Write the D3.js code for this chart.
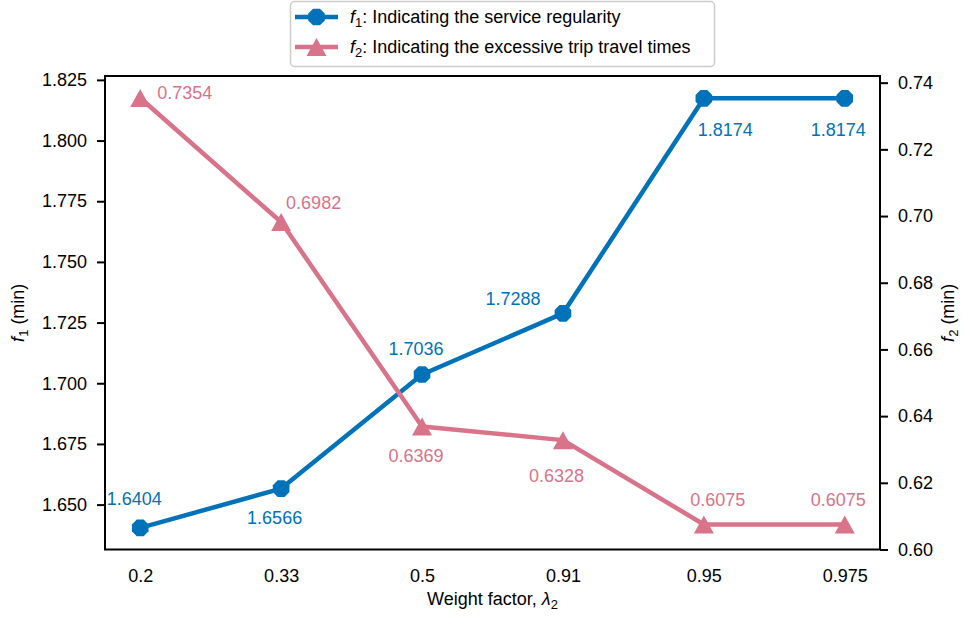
<!DOCTYPE html>
<html><head><meta charset="utf-8">
<script src="https://cdn.jsdelivr.net/npm/d3@7/dist/d3.min.js"></script>
<style>
body{margin:0;background:#fff;}
svg text{font-family:"Liberation Sans",Arial,sans-serif;}
</style></head><body>
<svg id="chart" width="965" height="621"></svg>
<script>
const categories = ["0.2","0.33","0.5","0.91","0.95","0.975"];
const f1Values = [1.6404,1.6566,1.7036,1.7288,1.8174,1.8174];
const f2Values = [0.7354,0.6982,0.6369,0.6328,0.6075,0.6075];
const f1Ticks = [1.650,1.675,1.700,1.725,1.750,1.775,1.800,1.825];
const f2Ticks = [0.60,0.62,0.64,0.66,0.68,0.70,0.72,0.74];

// label layout offsets (dx of text center, dy of baseline)
const f1LabelOff = [[-6,-23],[-6.5,35.5],[-6,-20],[-50,-8],[21.5,38],[-6.5,38]];
const f2LabelOff = [[44.5,1],[32.5,-13],[-6,36],[-6.5,42],[14,-18],[-6.5,-18]];

const blue = "#0072BA", pink = "#D8738A";
const L=105, R=880, T=76, B=549.5, FS=18, SFS=13;
const svg = d3.select("#chart");

const x = d3.scaleLinear().domain([-0.25, categories.length-0.75]).range([L,R]);
const yL = d3.scaleLinear().domain([1.6315,1.8266]).range([B,T]);
const yR = d3.scaleLinear().domain([0.60,0.742]).range([B,T]);

function octagon(r){
  const pts=[];
  for(let k=0;k<8;k++){const a=(22.5+45*k)*Math.PI/180;pts.push([r*Math.cos(a),r*Math.sin(a)]);}
  return "M"+pts.map(p=>p.join(",")).join("L")+"Z";
}
const tri = "M0,-9L10,9L-10,9Z";

// axes
const axL = d3.axisLeft(yL).tickValues(f1Ticks).tickFormat(d3.format(".3f")).tickSize(8).tickPadding(10);
const axR = d3.axisRight(yR).tickValues(f2Ticks).tickFormat(d3.format(".2f")).tickSize(8).tickPadding(10);
const axB = d3.axisBottom(x).tickValues(d3.range(categories.length)).tickFormat(i=>categories[i]).tickSize(0).tickPadding(20);

function style(g){
  g.selectAll("text").attr("font-size",FS).attr("fill","#000").attr("font-family","Liberation Sans, Arial, sans-serif");
  g.selectAll("line").attr("stroke","#000").attr("stroke-width",2);
  g.select(".domain").remove();
}
svg.append("g").attr("transform",`translate(${L},0)`).call(axL).call(style);
svg.append("g").attr("transform",`translate(${R},0)`).call(axR).call(style);
svg.append("g").attr("transform",`translate(0,${B})`).call(axB).call(style);
svg.append("rect").attr("x",L).attr("y",T).attr("width",R-L).attr("height",B-T)
  .attr("fill","none").attr("stroke","#000").attr("stroke-width",2);

// lines
const idx = d3.range(categories.length);
svg.append("path").attr("d", d3.line().x(i=>x(i)).y(i=>yL(f1Values[i]))(idx))
  .attr("fill","none").attr("stroke",blue).attr("stroke-width",4.5).attr("stroke-linejoin","round");
svg.append("path").attr("d", d3.line().x(i=>x(i)).y(i=>yR(f2Values[i]))(idx))
  .attr("fill","none").attr("stroke",pink).attr("stroke-width",4.5).attr("stroke-linejoin","round");

svg.selectAll(".m1").data(idx).join("path").attr("d",octagon(9))
  .attr("transform",i=>`translate(${x(i)},${yL(f1Values[i])})`).attr("fill",blue);
svg.selectAll(".m2").data(idx).join("path").attr("d",tri)
  .attr("transform",i=>`translate(${x(i)},${yR(f2Values[i])})`).attr("fill",pink);

// labels
svg.selectAll(".l1").data(idx).join("text")
  .attr("x",i=>x(i)+f1LabelOff[i][0]).attr("y",i=>yL(f1Values[i])+f1LabelOff[i][1])
  .attr("text-anchor","middle").attr("font-size",FS).attr("fill",blue)
  .text(i=>f1Values[i].toFixed(4));
svg.selectAll(".l2").data(idx).join("text")
  .attr("x",i=>x(i)+f2LabelOff[i][0]).attr("y",i=>yR(f2Values[i])+f2LabelOff[i][1])
  .attr("text-anchor","middle").attr("font-size",FS).attr("fill",pink)
  .text(i=>f2Values[i].toFixed(4));

// axis titles
const xt = svg.append("text").attr("x",(L+R)/2).attr("y",605).attr("text-anchor","middle").attr("font-size",FS);
xt.append("tspan").text("Weight factor, ");
xt.append("tspan").attr("font-style","italic").text("λ");
xt.append("tspan").attr("font-size",SFS).attr("dy",4).text("2");

function ytitle(xp, sub){
  const t = svg.append("text").attr("transform",`translate(${xp},${(T+B)/2}) rotate(-90)`)
    .attr("text-anchor","middle").attr("font-size",FS);
  t.append("tspan").attr("font-style","italic").text("f");
  t.append("tspan").attr("font-size",SFS).attr("dy",4).text(sub);
  t.append("tspan").attr("dy",-4).text(" (min)");
}
ytitle(24,"1");
ytitle(954,"2");

// legend
const lg = svg.append("g");
lg.append("rect").attr("x",290.5).attr("y",1.5).attr("width",424).attr("height",65).attr("rx",4)
  .attr("fill","#fff").attr("stroke","#ccc").attr("stroke-width",1.5);
const items=[{c:blue,m:octagon(9),s:"1",t:": Indicating the service regularity",y:17},
             {c:pink,m:tri,s:"2",t:": Indicating the excessive trip travel times",y:47}];
items.forEach(it=>{
  lg.append("line").attr("x1",295).attr("x2",338).attr("y1",it.y).attr("y2",it.y).attr("stroke",it.c).attr("stroke-width",4.5);
  lg.append("path").attr("d",it.m).attr("transform",`translate(316.5,${it.y})`).attr("fill",it.c);
  const t=lg.append("text").attr("x",350).attr("y",it.y+6).attr("font-size",FS);
  t.append("tspan").attr("font-style","italic").text("f");
  t.append("tspan").attr("font-size",SFS).attr("dy",4).text(it.s);
  t.append("tspan").attr("dy",-4).text(it.t);
});
</script>
</body></html>
